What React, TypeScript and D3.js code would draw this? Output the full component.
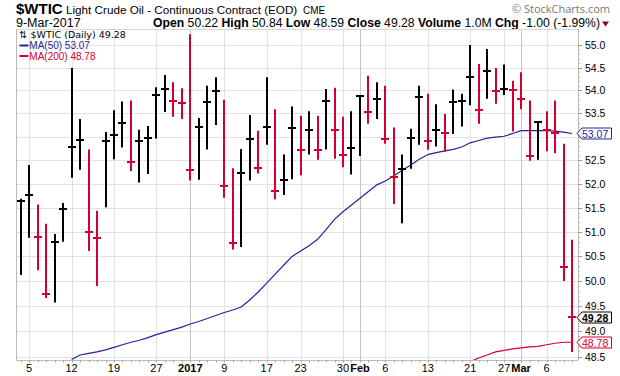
import React from "react";
import * as d3 from "d3";

const dates = [
  "2016-12-02","2016-12-05","2016-12-06","2016-12-07","2016-12-08","2016-12-09",
  "2016-12-12","2016-12-13","2016-12-14","2016-12-15","2016-12-16",
  "2016-12-19","2016-12-20","2016-12-21","2016-12-22","2016-12-23",
  "2016-12-27","2016-12-28","2016-12-29","2016-12-30",
  "2017-01-03","2017-01-04","2017-01-05","2017-01-06",
  "2017-01-09","2017-01-10","2017-01-11","2017-01-12","2017-01-13",
  "2017-01-17","2017-01-18","2017-01-19","2017-01-20",
  "2017-01-23","2017-01-24","2017-01-25","2017-01-26","2017-01-27",
  "2017-01-30","2017-01-31","2017-02-01","2017-02-02","2017-02-03",
  "2017-02-06","2017-02-07","2017-02-08","2017-02-09","2017-02-10",
  "2017-02-13","2017-02-14","2017-02-15","2017-02-16","2017-02-17",
  "2017-02-21","2017-02-22","2017-02-23","2017-02-24",
  "2017-02-27","2017-02-28","2017-03-01","2017-03-02","2017-03-03",
  "2017-03-06","2017-03-07","2017-03-08","2017-03-09",
];

const highs = [
  51.69, 52.40, 51.57, 51.17, 50.96, 51.60,
  54.49, 53.38, 52.73, 51.44, 53.10,
  53.57, 53.76, 53.78, 53.15, 53.23,
  54.07, 54.34, 54.18, 54.05,
  55.24, 53.40, 54.10, 54.29,
  53.80, 52.33, 52.74, 53.47, 53.13,
  54.29, 53.59, 52.62, 53.65,
  53.45, 53.55, 53.45, 54.03, 54.06,
  53.43, 53.55, 53.88, 54.32, 54.18,
  54.10, 53.20, 52.62, 53.17, 54.10,
  53.93, 53.70, 53.49, 54.02, 53.93,
  55.00, 54.58, 54.91, 54.49,
  54.57, 54.21, 54.40, 53.78, 53.33,
  53.55, 53.78, 52.85, 50.84,
];

const lows = [
  50.12, 50.88, 50.22, 49.66, 49.57, 50.80,
  52.13, 52.30, 50.61, 49.90, 51.51,
  52.52, 52.77, 52.27, 52.03, 52.21,
  52.96, 53.53, 53.43, 53.38,
  52.07, 52.09, 52.73, 53.25,
  51.71, 50.64, 50.69, 52.07, 52.22,
  52.83, 51.68, 51.77, 52.10,
  52.18, 52.62, 52.51, 52.73, 52.53,
  52.35, 52.20, 52.59, 53.28, 53.38,
  52.85, 51.58, 51.18, 52.32, 52.83,
  52.72, 52.79, 52.68, 53.06, 53.22,
  53.68, 53.28, 53.82, 53.71,
  53.90, 53.11, 53.59, 52.49, 52.51,
  52.69, 52.65, 50.00, 48.59,
];

const closes = [
  51.64, 51.77, 50.90, 49.73, 50.80, 51.47,
  52.78, 52.93, 51.00, 50.88, 52.91,
  53.04, 53.29, 52.47, 52.91, 52.98,
  53.90, 54.03, 53.77, 53.72,
  52.30, 53.21, 53.75, 53.99,
  51.95, 50.78, 52.23, 52.96, 52.33,
  53.21, 51.86, 52.08, 53.18,
  52.71, 53.15, 52.71, 53.77, 53.15,
  52.62, 52.77, 53.88, 53.54, 53.82,
  52.96, 52.15, 52.32, 52.97, 53.85,
  52.91, 53.15, 53.07, 53.75, 53.78,
  54.30, 53.57, 54.43, 53.99,
  54.03, 54.00, 53.82, 52.59, 53.31,
  53.15, 53.09, 50.28, 49.28,
];

const ma50Start = "2016-12-12";
const ma50 = [
  48.44, 48.53, 48.56, 48.59, 48.63,
  48.68, 48.73, 48.78, 48.82, 48.87,
  48.93, 48.98, 49.03, 49.08,
  49.14, 49.19, 49.25, 49.31,
  49.37, 49.42, 49.48, 49.62, 49.78,
  49.96, 50.14, 50.32, 50.50,
  50.61, 50.72, 50.85, 51.05, 51.26,
  51.42, 51.56, 51.70, 51.84, 51.98,
  52.06, 52.17, 52.29, 52.40, 52.52,
  52.62, 52.66, 52.70, 52.73, 52.78,
  52.87, 52.92, 52.97, 52.99,
  53.01, 53.07, 53.13, 53.13, 53.13,
  53.13, 53.12, 53.10, 53.07,
];

const ma200Start = "2017-02-21";
const ma200 = [
  48.40, 48.47, 48.53, 48.59,
  48.62, 48.65, 48.67, 48.69, 48.70,
  48.73, 48.76, 48.78, 48.78,
];

const yTicks = [48.5, 49.0, 49.5, 50.0, 50.5, 51.0, 51.5, 52.0, 52.5, 53.0, 53.5, 54.0, 54.5, 55.0];

const xTickDates = [
  "2016-12-05","2016-12-12","2016-12-19","2016-12-27","2017-01-03","2017-01-09",
  "2017-01-17","2017-01-23","2017-01-30","2017-02-01","2017-02-06","2017-02-13",
  "2017-02-21","2017-02-27","2017-03-01","2017-03-06",
];
const xTickLabels = ["5","12","19","27","2017","9","17","23","30","Feb","6","13","21","27","Mar","6"];
const xTickMajor = [false,false,false,false,true,false,false,false,false,true,false,false,false,false,true,false];

const RED = "#d2002e";
const BLUE = "#24249c";
const FONT = "'Liberation Sans', Arial, sans-serif";

export default function App() {
  const W = 620, H = 376;
  const L = 16, R = 578, T = 29, B = 360;
  const x = d3.scaleLinear().domain([0, dates.length - 1]).range([20.7, 572]);
  const y = d3.scaleLog().domain([48.5, 55.0]).range([356.5, 45]);

  const idx = (d: string) => dates.indexOf(d);
  const ma50Off = idx(ma50Start);
  const ma200Off = idx(ma200Start);
  const line = d3.line<[number, number]>().x((d) => d[0]).y((d) => d[1]);
  const ma50Path = line(ma50.map((v, i) => [x(i + ma50Off), y(v)]));
  const ma200Path = line(ma200.map((v, i) => [x(i + ma200Off), y(v)]));

  const minorY = d3.range(485, 551, 1).map((v) => v / 10);

  const lastClose = closes[closes.length - 1];
  const lastMa50 = ma50[ma50.length - 1];
  const lastMa200 = ma200[ma200.length - 1];
  const tagVals = [lastMa50, lastClose, lastMa200];

  const tag = (val: number, color: string, bold: boolean, key: string) => {
    const cy = Math.round(y(val)) + 0.5;
    const x0 = R - 1;
    const h = 11;
    const w = 34.5;
    const p = `M${x0},${cy} L${x0 + 5},${cy - h / 2} L${x0 + w},${cy - h / 2} L${x0 + w},${cy + h / 2} L${x0 + 5},${cy + h / 2} Z`;
    return (
      <g key={key}>
        <path d={p} fill="#fff" stroke={color} strokeWidth={1} />
        <text x={x0 + 5} y={cy + 4} fontSize={10.5} fontWeight={bold ? "bold" : "normal"} fill={color} fontFamily={FONT}>
          {val.toFixed(2)}
        </text>
      </g>
    );
  };

  return (
    <svg width={W} height={H} style={{ position: "absolute", left: 0, top: 0, background: "#fff" }}>
      <defs>
        <clipPath id="plot">
          <rect x={L} y={T} width={R - L} height={B - T} />
        </clipPath>
      </defs>
      <rect x={0} y={0} width={W} height={H} fill="#fff" />
      {/* header */}
      <text x={16} y={14} fontFamily={FONT} fontSize={15} fontWeight="bold" fill="#000">$WTIC</text>
      <text x={66} y={14} fontFamily={FONT} fontSize={11.7} fill="#000">Light Crude Oil - Continuous Contract (EOD)</text>
      <text x={303} y={14} fontFamily={FONT} fontSize={10} fill="#000">CME</text>
      <text x={610} y={13} textAnchor="end" fontFamily="'Open Sans', sans-serif" fontSize={11} fill="#777">© StockCharts.com</text>
      <text x={16} y={26.5} fontFamily={FONT} fontSize={12.5} fill="#000">9-Mar-2017</text>
      <text x={600} y={26.5} textAnchor="end" fontFamily={FONT} fontSize={12.2} fill="#000">
        <tspan fontWeight="bold">Open</tspan><tspan> 50.22 </tspan>
        <tspan fontWeight="bold">High</tspan><tspan> 50.84 </tspan>
        <tspan fontWeight="bold">Low</tspan><tspan> 48.59 </tspan>
        <tspan fontWeight="bold">Close</tspan><tspan> 49.28 </tspan>
        <tspan fontWeight="bold">Volume</tspan><tspan> 1.0M </tspan>
        <tspan fontWeight="bold">Chg</tspan><tspan> -1.00 (-1.99%)</tspan>
      </text>
      <path d="M602,21.5 L609,21.5 L605.5,26.5 Z" fill="#8b0025" />

      {/* grid */}
      {yTicks.map((t) => (
        <line key={"gy" + t} x1={L} x2={R} y1={Math.round(y(t)) + 0.5} y2={Math.round(y(t)) + 0.5} stroke="#e2e2e2" strokeWidth={1} />
      ))}
      {xTickDates.map((d, i) => (
        <line key={"gx" + d} x1={Math.round(x(idx(d))) + 0.5} x2={Math.round(x(idx(d))) + 0.5} y1={T} y2={B} stroke={xTickMajor[i] ? "#c4c4c4" : "#e2e2e2"} strokeWidth={1} />
      ))}
      {/* frame */}
      <line x1={L + 0.5} x2={L + 0.5} y1={T} y2={B} stroke="#bbb" />
      <line x1={R + 0.5} x2={R + 0.5} y1={T} y2={B} stroke="#bbb" />
      <line x1={L} x2={R} y1={B + 0.5} y2={B + 0.5} stroke="#bbb" />
      <line x1={L} x2={R} y1={T + 0.5} y2={T + 0.5} stroke="#d8d8d8" />

      <g clipPath="url(#plot)">
        <path d={ma50Path || ""} fill="none" stroke={BLUE} strokeWidth={1.2} />
        <path d={ma200Path || ""} fill="none" stroke={RED} strokeWidth={1.2} />
        {dates.map((d, i) => {
          const up = i === 0 ? true : closes[i] >= closes[i - 1];
          const c = up ? "#000" : RED;
          const cx = Math.round(x(i));
          const cy = Math.round(y(closes[i]));
          return (
            <g key={d} stroke={c} strokeWidth={2}>
              <line x1={cx} x2={cx} y1={y(highs[i])} y2={y(lows[i])} />
              <line x1={cx - 4} x2={cx + 4} y1={cy} y2={cy} />
            </g>
          );
        })}
      </g>

      {/* legend */}
      <text x={19} y={38} fontFamily="'DejaVu Sans', Verdana, sans-serif" fontSize={9.5} fill="#000">⇅</text>
      <text x={30.5} y={38} fontFamily="'DejaVu Sans', Verdana, sans-serif" fontSize={9.5} fill="#000">$WTIC (Daily) 49.28</text>
      <line x1={19.5} x2={28.5} y1={45.5} y2={45.5} stroke={BLUE} strokeWidth={2} />
      <text x={29.3} y={49} fontFamily={FONT} fontSize={10} fill={BLUE}>MA(50) 53.07</text>
      <line x1={19.5} x2={28.5} y1={56} y2={56} stroke={RED} strokeWidth={2} />
      <text x={29.3} y={59.5} fontFamily={FONT} fontSize={10} fill={RED}>MA(200) 48.78</text>

      {/* bottom axis minor ticks */}
      {dates.map((d, i) => (
        <line key={"bt" + d} x1={Math.round(x(i)) + 0.5} x2={Math.round(x(i)) + 0.5} y1={B} y2={B + 2.5} stroke="#aaa" />
      ))}
      {xTickDates.map((d, i) => (
        <text key={"xl" + d} x={x(idx(d))} y={372} textAnchor="middle" fontFamily={FONT} fontSize={11} fontWeight={xTickMajor[i] ? "bold" : "normal"} fill="#000">
          {xTickLabels[i]}
        </text>
      ))}

      {/* right axis */}
      {minorY.map((v) => (
        <line key={"my" + v} x1={R} x2={R + 2} y1={Math.round(y(v)) + 0.5} y2={Math.round(y(v)) + 0.5} stroke="#bbb" />
      ))}
      {yTicks.map((t) => (
        <g key={"yl" + t}>
          <line x1={R} x2={R + 4} y1={Math.round(y(t)) + 0.5} y2={Math.round(y(t)) + 0.5} stroke="#999" />
          {tagVals.every((v) => Math.abs(y(v) - y(t)) > 7) && (
            <text x={585} y={y(t) + 4} fontFamily={FONT} fontSize={10.5} fill="#000">{t.toFixed(1)}</text>
          )}
        </g>
      ))}
      {tag(lastMa50, BLUE, false, "t50")}
      {tag(lastClose, "#000", true, "tc")}
      {tag(lastMa200, RED, false, "t200")}
    </svg>
  );
}
